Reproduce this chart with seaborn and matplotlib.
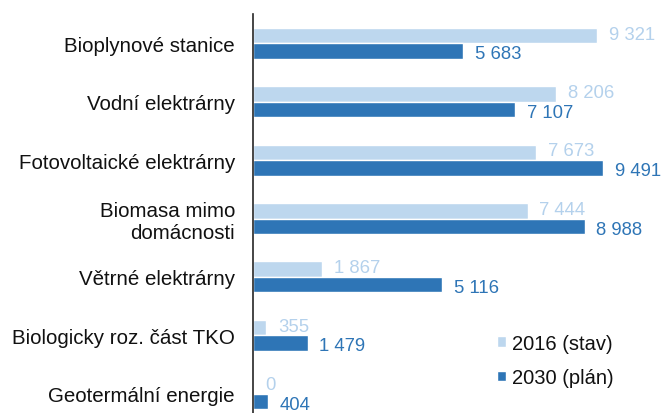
# Import libraries
import pandas as pd
import matplotlib
matplotlib.use("Agg")
import matplotlib.pyplot as plt
import seaborn as sns

# Data
categories = [
    "Bioplynové stanice",
    "Vodní elektrárny",
    "Fotovoltaické elektrárny",
    "Biomasa mimo\ndomácnosti",
    "Větrné elektrárny",
    "Biologicky roz. část TKO",
    "Geotermální energie",
]
values_2016 = [9321, 8206, 7673, 7444, 1867, 355, 0]
values_2030 = [5683, 7107, 9491, 8988, 5116, 1479, 404]
series = ["2016 (stav)", "2030 (plán)"]
colors = ["#BDD7EE", "#2E75B6"]

# Long format for seaborn
data = pd.DataFrame({
    "kategorie": categories * 2,
    "hodnota": values_2016 + values_2030,
    "rok": [series[0]] * len(categories) + [series[1]] * len(categories),
})

sns.set_style("white")
plt.rcParams["font.family"] = ["Liberation Sans", "DejaVu Sans"]

fig = plt.figure(figsize=(6.61, 4.14), dpi=100)
ax = fig.add_axes([253 / 661, -10 / 414, (622 - 253) / 661, (414 - 15 + 10) / 414])

sns.barplot(
    data=data, y="kategorie", x="hodnota", hue="rok", order=categories,
    hue_order=series, palette=colors, orient="h", width=0.53, gap=0,
    saturation=1, ax=ax, legend=True,
)

ax.set_xlim(0, 10000)
ax.set_xlabel("")
ax.set_ylabel("")
ax.set_xticks([])
for side in ["top", "right", "bottom"]:
    ax.spines[side].set_visible(False)
ax.spines["left"].set_color("#262626")
ax.spines["left"].set_linewidth(1.2)
ax.tick_params(axis="y", length=0, pad=13, labelsize=14.8, labelcolor="#111111")

# Value labels
for container, col, dy in zip(ax.containers, ["#B4D1EC", "#2E75B6"], [1, -2]):
    for bar in container:
        v = bar.get_width()
        txt = f"{int(v):,}".replace(",", " ")
        ax.annotate(
            txt, (v, bar.get_y() + bar.get_height() / 2),
            xytext=(8.5, dy), textcoords="offset points",
            ha="left", va="center", fontsize=13.3, color=col,
            annotation_clip=False,
        )

# Legend
handles, labels = ax.get_legend_handles_labels()
ax.legend(
    handles, labels, loc="upper left",
    bbox_to_anchor=(497 / 661, 1 - 335 / 414), bbox_transform=fig.transFigure,
    frameon=False, fontsize=14.5, handlelength=0.45, handleheight=0.45,
    handletextpad=0.3, labelspacing=0.75, borderpad=0, borderaxespad=0,
    labelcolor="#111111",
)

fig.savefig("out.png", dpi=100)
